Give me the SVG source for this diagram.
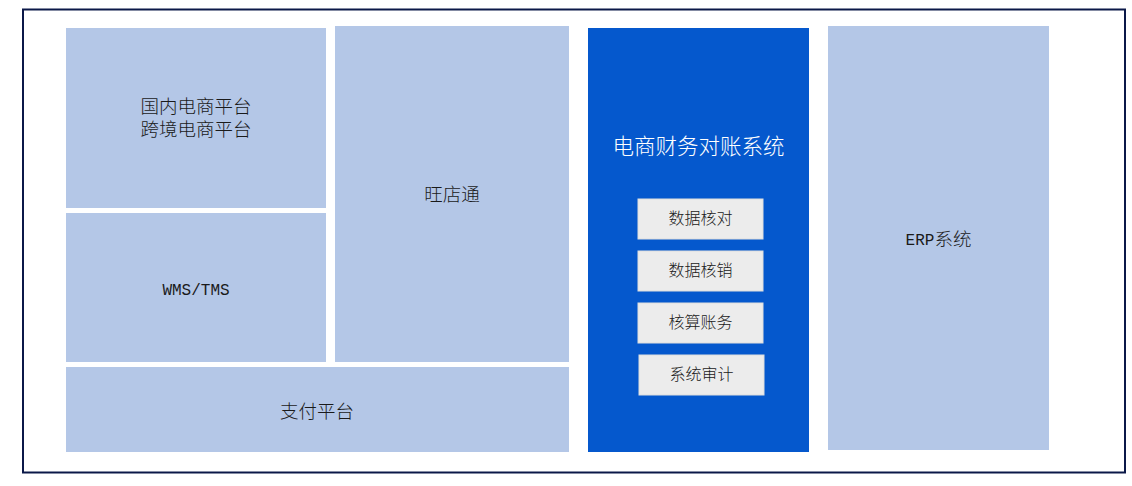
<svg xmlns="http://www.w3.org/2000/svg" width="1132" height="486" viewBox="0 0 1132 486">
<style>
.lb{fill:#b4c7e7}
.gr{fill:#ececec;stroke:#dedede;stroke-width:1}
.t{font-family:"Liberation Mono","Noto Sans CJK SC",monospace;font-size:18.5px;font-weight:300;fill:#1a1a1a;text-anchor:middle;dominant-baseline:central}
.s{font-size:16px}
.w{fill:#ffffff;font-size:21.5px}
</style>
<rect width="1132" height="486" fill="#ffffff"/>
<rect x="23" y="9.5" width="1102" height="463" fill="none" stroke="#0b1848" stroke-width="2"/>
<g id="domestic">
<rect class="lb" x="66" y="28" width="260" height="180"/>
<text class="t" x="196" y="108.5">国内电商平台</text>
<text class="t" x="196" y="131.5">跨境电商平台</text>
</g>
<g id="wms">
<rect class="lb" x="66" y="213" width="260" height="149"/>
<text class="t" x="196" y="291" style="font-size:16px">WMS/TMS</text>
</g>
<g id="wdt">
<rect class="lb" x="335" y="26" width="234" height="336"/>
<text class="t" x="452" y="196.5">旺店通</text>
</g>
<g id="pay">
<rect class="lb" x="66" y="367" width="503" height="85"/>
<text class="t" x="317" y="413.5">支付平台</text>
</g>
<g id="finance">
<rect x="588" y="28" width="221" height="424" fill="#0558cd"/>
<text class="t w" x="698.5" y="148">电商财务对账系统</text>
</g>
<g id="check">
<rect class="gr" x="638" y="199" width="125" height="40"/>
<text class="t s" x="700.5" y="220">数据核对</text>
</g>
<g id="writeoff">
<rect class="gr" x="638" y="251" width="125" height="40"/>
<text class="t s" x="700.5" y="272">数据核销</text>
</g>
<g id="accounting">
<rect class="gr" x="638" y="303" width="125" height="40"/>
<text class="t s" x="700.5" y="324">核算账务</text>
</g>
<g id="audit">
<rect class="gr" x="639" y="355" width="125" height="40"/>
<text class="t s" x="701.5" y="376">系统审计</text>
</g>
<g id="erp">
<rect class="lb" x="828" y="26" width="221" height="424"/>
<text class="t" x="938.5" y="241"><tspan style="font-size:16px">ERP</tspan>系统</text>
</g>
<g id="connectors"></g>
</svg>
